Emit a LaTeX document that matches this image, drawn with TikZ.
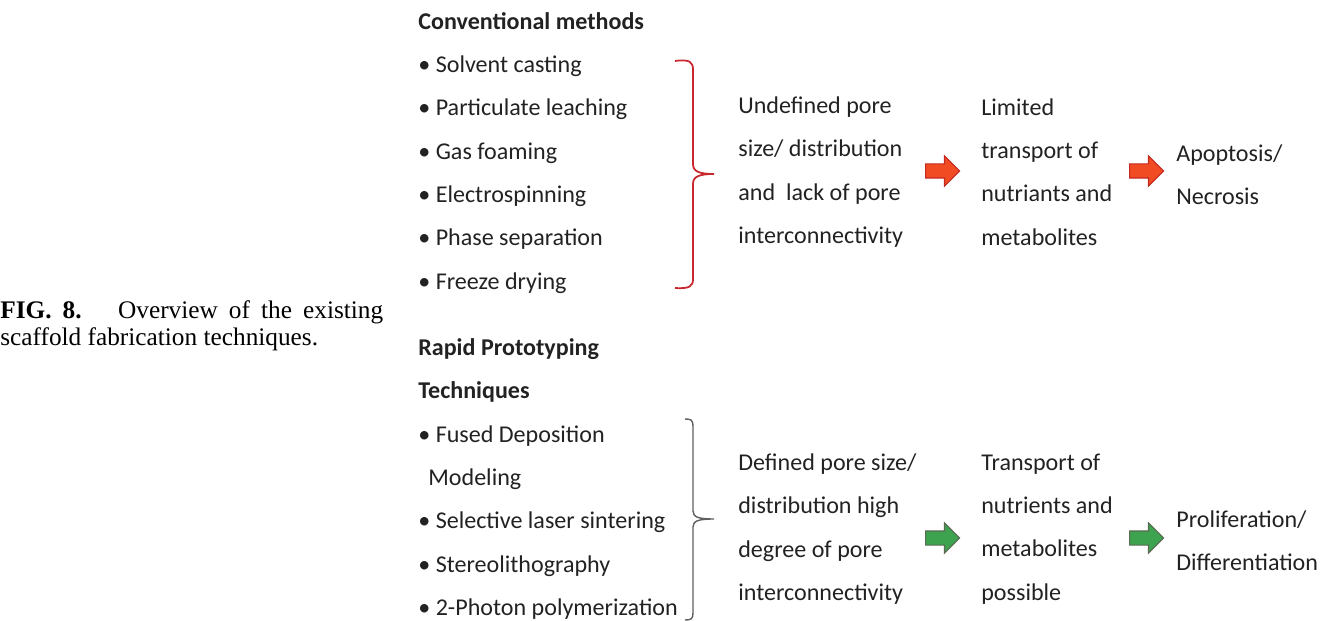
\documentclass[tikz,border=0pt]{standalone}
\usepackage{fontspec}
\setmainfont{Carlito}
\newfontfamily\capfont{Liberation Serif}
\usepackage{xcolor}
\definecolor{braceRed}{HTML}{C8282D}
\definecolor{arrowRed}{HTML}{F04B23}
\definecolor{arrowRedLine}{HTML}{C42A22}
\definecolor{arrowGreen}{HTML}{3DA34F}
\definecolor{arrowGreenLine}{HTML}{5B6B55}
\definecolor{braceGray}{HTML}{5F5F5F}
\definecolor{textDark}{HTML}{222222}
\usetikzlibrary{shapes}
\tikzstyle{item} = [anchor=west, inner sep=0pt, text height=2.0ex, text depth=0.28ex, font=\fontsize{13.7}{24.6}\selectfont, text=textDark]
\tikzstyle{heading} = [item, font=\fontsize{13.7}{24.6}\selectfont\bfseries]
\tikzstyle{column} = [anchor=west, inner sep=0pt, align=left, font=\fontsize{13.7}{24.6}\selectfont, text=textDark]
\tikzstyle{captionline} = [anchor=west, inner sep=0pt, text height=2.2ex, text depth=0.32ex, font=\capfont\fontsize{14.4}{15.3}\selectfont]
\tikzstyle{blockarrow} = [single arrow, minimum height=0.68cm, inner xsep=0pt, inner ysep=0.13cm, single arrow head extend=0.16cm, line width=0.6pt]

\begin{document}
\begin{tikzpicture}[x=0.02cm, y=-0.02cm]

    \useasboundingbox (0,0) rectangle (1332,621);

    % caption
    \node (captionA) [captionline] at (0,311) {\makebox[7.66cm][s]{\textbf{FIG. 8.}\quad\ Overview of the existing}};
    \node (captionB) [captionline] at (0,338) {scaffold fabrication techniques.};

    % conventional methods
    \node (convHead) [heading] at (418,22) {Conventional methods};
    \node (solvent) [item] at (418,65) {• Solvent casting};
    \node (leaching) [item] at (418,108) {• Particulate leaching};
    \node (foaming) [item] at (418,152) {• Gas foaming};
    \node (spinning) [item] at (418,195) {• Electrospinning};
    \node (phase) [item] at (418,238) {• Phase separation};
    \node (freeze) [item] at (418,282) {• Freeze drying};

    \draw[braceRed, line width=1pt] (675,61) .. controls (690,59) and (693,62) .. (693,70) -- (693,164) .. controls (693,171) and (698,174) .. (714,174) .. controls (698,174) and (693,177) .. (693,184) -- (693,279) .. controls (693,286) and (690,289) .. (675,288);

    \node (undefined) [column] at (738,172) {Undefined pore\\size/ distribution\\and\ \ lack of pore\\interconnectivity};
    \node (redArrowA) [blockarrow, fill=arrowRed, draw=arrowRedLine] at (939,171) {};
    \node (limited) [column] at (981,172) {Limited\\transport of\\nutriants and\\metabolites};
    \node (redArrowB) [blockarrow, fill=arrowRed, draw=arrowRedLine] at (1143,171) {};
    \node (apoptosis) [column] at (1176,175) {Apoptosis/\\Necrosis};

    % rapid prototyping
    \node (rpHead) [heading] at (418,348) {Rapid Prototyping};
    \node (rpHeadB) [heading] at (418,391) {Techniques};
    \node (fused) [item] at (418,435) {• Fused Deposition};
    \node (modeling) [item] at (428,478) {Modeling};
    \node (laser) [item] at (418,521) {• Selective laser sintering};
    \node (stereo) [item] at (418,565) {• Stereolithography};
    \node (photon) [item] at (418,608) {• 2-Photon polymerization};

    \draw[braceGray, line width=0.8pt] (685,419) .. controls (691,419) and (693,420) .. (693,426) -- (693,511) .. controls (693,517) and (698,519) .. (714,519) .. controls (698,519) and (693,521) .. (693,527) -- (693,613) .. controls (693,619) and (691,620) .. (685,620);

    \node (defined) [column] at (738,529) {Defined pore size/\\distribution high\\degree of pore\\interconnectivity};
    \node (greenArrowA) [blockarrow, fill=arrowGreen, draw=arrowGreenLine] at (939,538) {};
    \node (transport) [column] at (981,529) {Transport of\\nutrients and\\metabolites\\possible};
    \node (greenArrowB) [blockarrow, fill=arrowGreen, draw=arrowGreenLine] at (1143,538) {};
    \node (prolif) [column] at (1176,541) {Proliferation/\\Differentiation};

\end{tikzpicture}
\end{document}
